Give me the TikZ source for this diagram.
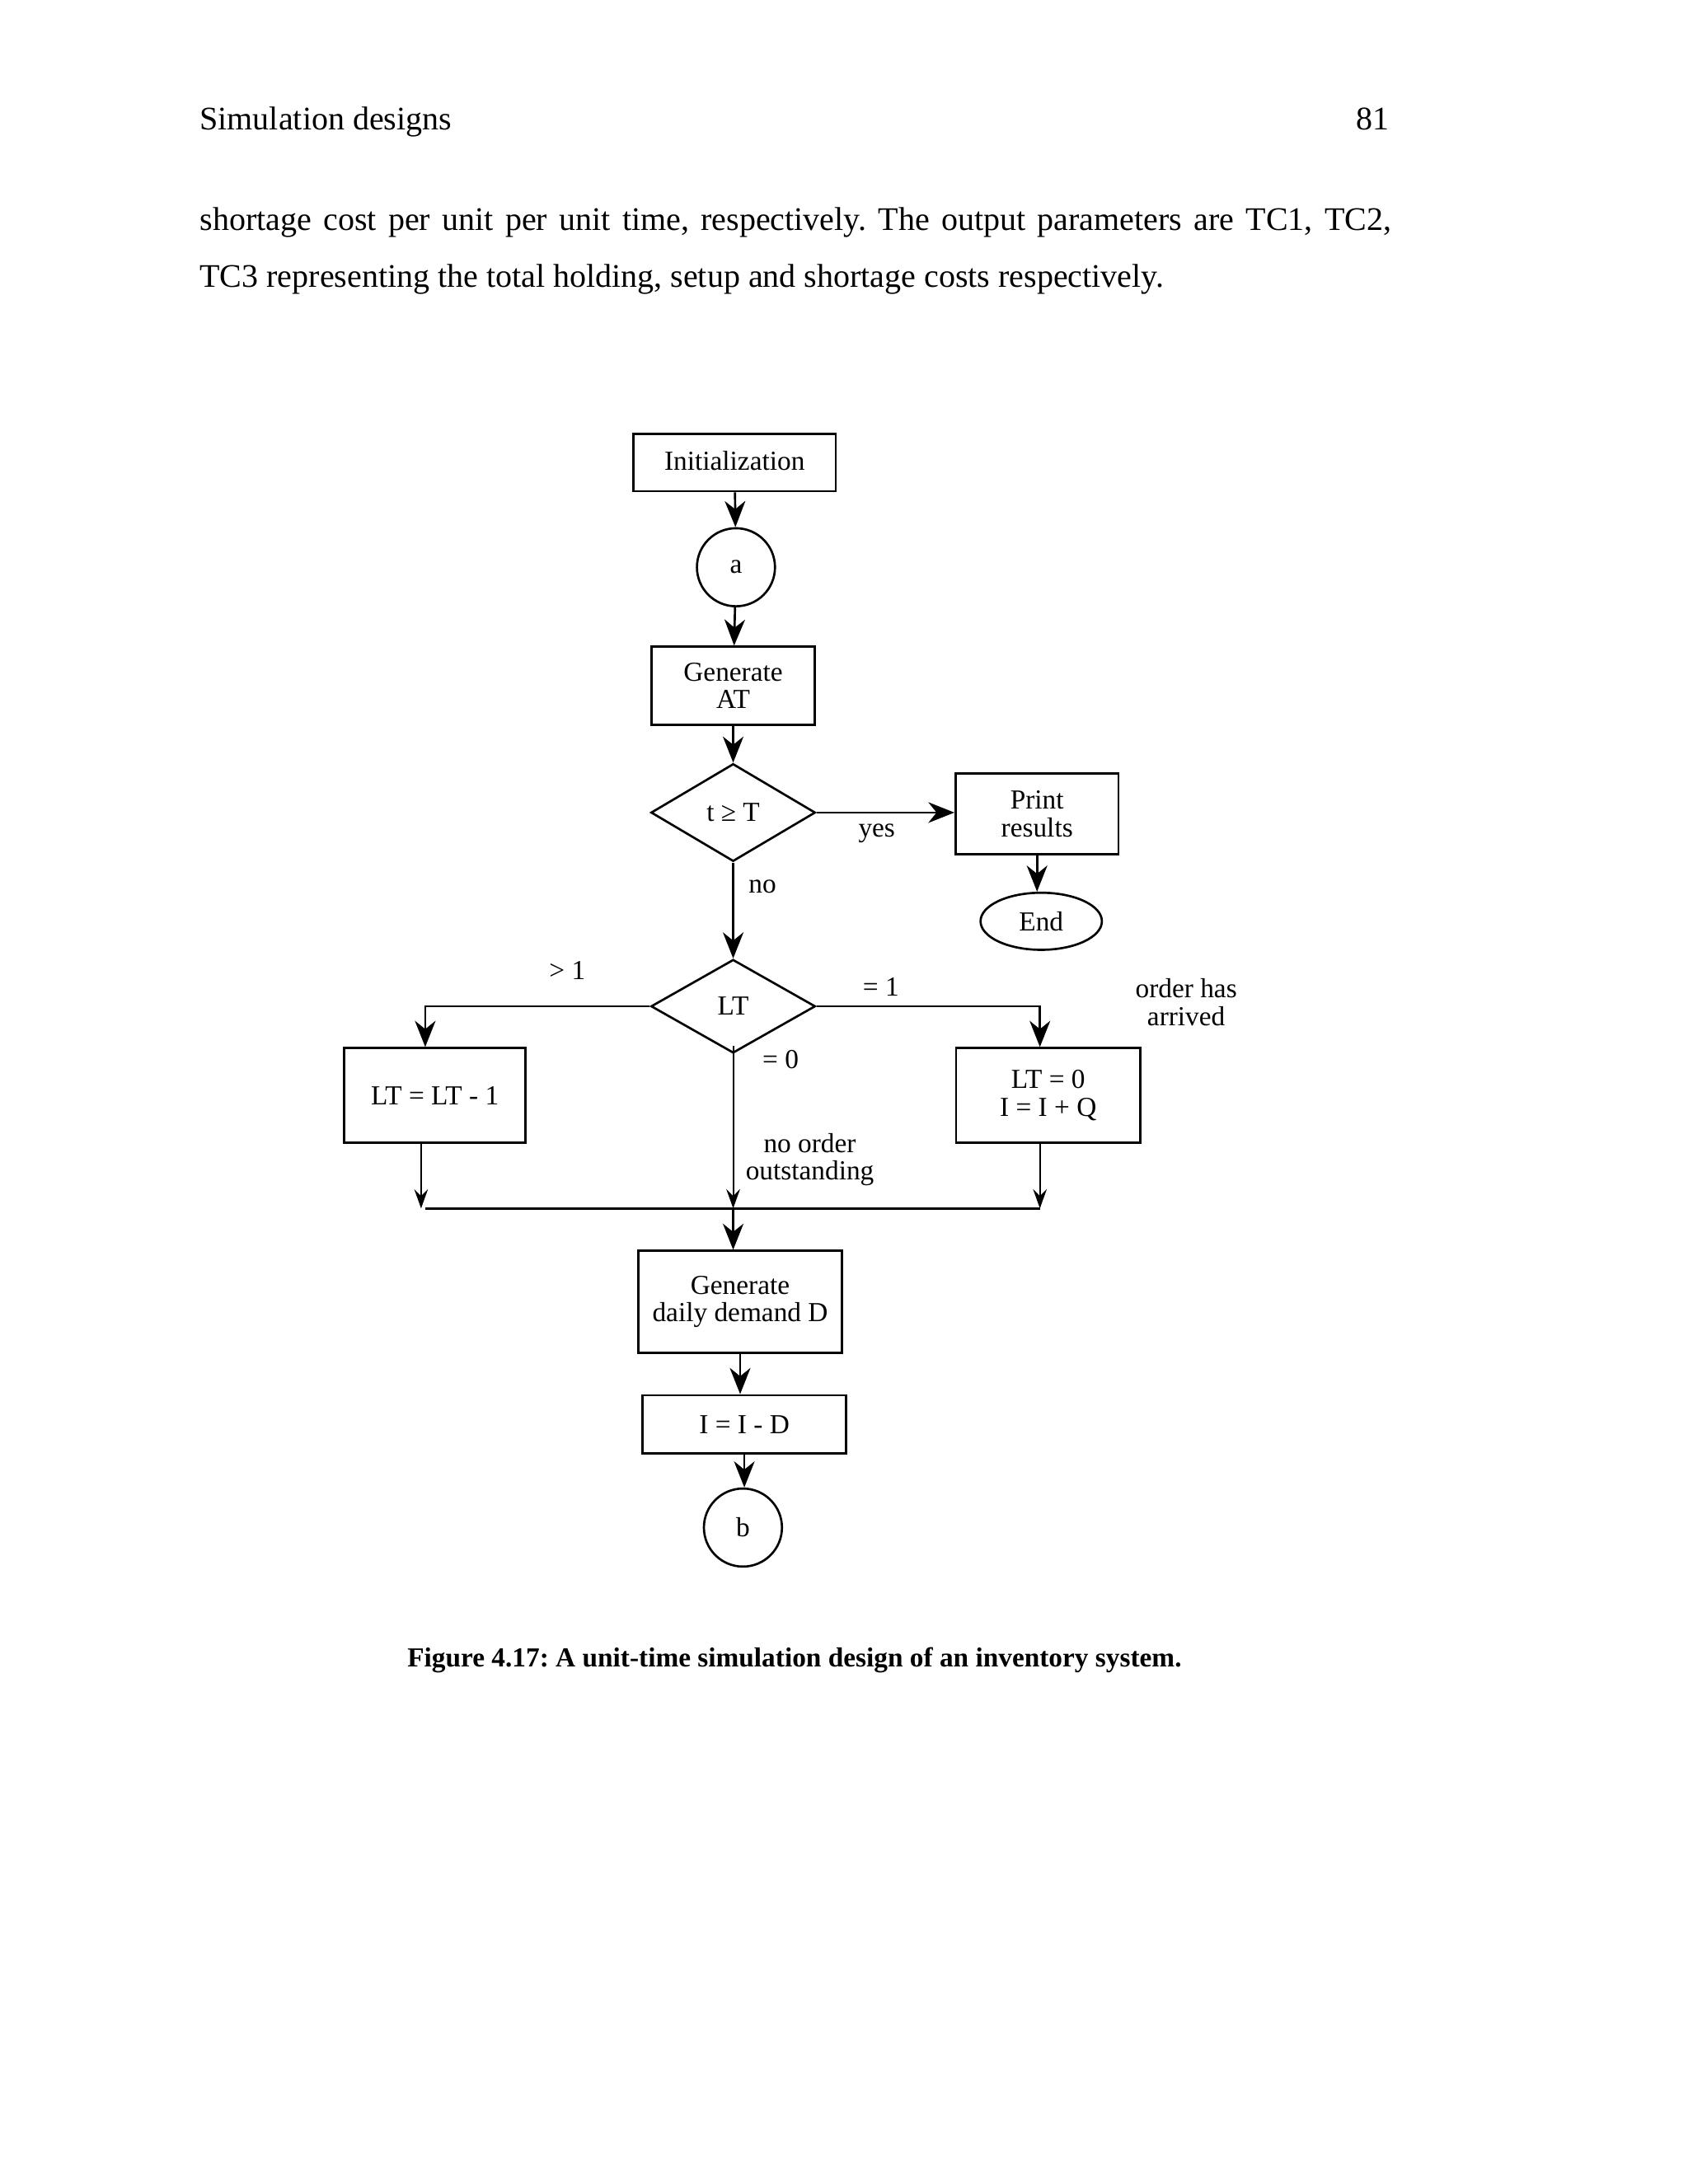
\documentclass[tikz,border=0pt]{standalone}
\usepackage{fontspec}
\setmainfont{Liberation Serif}
\frenchspacing
\usetikzlibrary{shapes,arrows,positioning,calc,arrows.meta}

\begin{document}
\begin{tikzpicture}[x=0.50537bp, y=-0.50537bp,
    every node/.style={font=\fontsize{10}{10}\selectfont, inner sep=1pt},
    box/.style={draw, line width=0.8pt, rectangle, align=center, inner sep=0pt},
    decision/.style={draw, line width=0.8pt, diamond, inner sep=0pt, minimum width=59.6bp},
    connector/.style={draw, line width=0.8pt, circle, inner sep=0pt, minimum size=28.3bp},
    arr/.style={line width=0.8pt, -{Stealth[length=9.5pt,width=7.5pt,inset=3pt]}},
    thinarr/.style={line width=0.6pt, -{Stealth[length=7pt,width=5pt,inset=2.5pt]}},
    lbl/.style={align=center},
    pagetext/.style={font=\fontsize{12}{14}\selectfont, inner sep=0pt}]
            \useasboundingbox (0,0) rectangle (1211,1567);

            % Page header and text
            \node[pagetext, anchor=base west] (head) at (143,93) {Simulation designs};
            \node[pagetext, anchor=base east] (pageno) at (997,93) {81};
            \node[pagetext, anchor=base west] (line1) at (143,165) {\makebox[432bp][s]{shortage cost per unit per unit time, respectively. The output parameters are TC1, TC2,}};
            \node[pagetext, anchor=base west] (line2) at (143,206) {TC3 representing the total holding, setup and shortage costs respectively.};

            % Main column
            \node[box, minimum width=73.3bp, minimum height=20.7bp] (init) at (527,332) {\raisebox{1.5bp}{Initialization}};
            \node[connector] (a) at (528,407) {a};
            \node[box, minimum width=59.1bp, minimum height=28.3bp] (genAT) at (526,492) {Generate\\AT};
            \node[decision, minimum height=35.4bp] (tT) at (526,583) {t ≥ T};

            % Stop branch
            \node[box, minimum width=59.1bp, minimum height=29.3bp] (print) at (744,584) {Print\\results};
            \node[draw, line width=0.8pt, ellipse, inner sep=0pt, minimum width=44bp, minimum height=20.7bp] (end) at (747,661) {End};

            % Lead time test
            \node[decision, minimum height=33.9bp] (LT) at (526,722) {LT};
            \node[box, minimum width=65.7bp, minimum height=34.4bp] (dec) at (312,786) {LT = LT - 1};
            \node[box, minimum width=66.7bp, minimum height=34.4bp] (arrv) at (752,786) {LT = 0\\I = I + Q};

            % Demand part
            \node[box, minimum width=73.8bp, minimum height=36.9bp] (genD) at (531,934) {Generate\\daily demand D};
            \node[box, minimum width=73.8bp, minimum height=21.2bp] (IID) at (534,1022) {I = I - D};
            \node[connector] (b) at (533,1096) {b};

            % Labels
            \node[lbl] (yes) at (629,598) {yes};
            \node[lbl] (no) at (547,636) {no};
            \node[lbl] (gt1) at (407,696) {> 1};
            \node[lbl] (eq1) at (632,708) {= 1};
            \node[lbl] (eq0) at (560,760) {= 0};
            \node[lbl] (noorder) at (581,832) {no order\\outstanding};
            \node[lbl] (arrived) at (851,719) {order has\\arrived};

            % Arrows
            \draw[arr] (init) -- (a);
            \draw[arr] (a) -- (genAT);
            \draw[arr] (genAT) -- (tT);
            \draw[arr] (tT.east) -- (tT.east -| print.west);
            \draw[arr] (print.south) -- (print.south |- end.north);
            \draw[arr] (tT) -- (LT);
            \draw[arr] (LT.west) -| ([xshift=-3.5bp]dec.north);
            \draw[arr] (LT.east) -| ([xshift=-3bp]arrv.north);

            % Merge line
            \coordinate (busL) at (305,867);
            \coordinate (busR) at (746,867);
            \draw[thinarr] ([xshift=-5bp]dec.south) -- ([xshift=-5bp]dec.south |- busL);
            \draw[thinarr] ([xshift=-3bp]arrv.south) -- ([xshift=-3bp]arrv.south |- busR);
            \draw[thinarr] ([yshift=3bp]LT.south) -- (LT.south |- busL);
            \draw[line width=0.8pt] (busL) -- (busR);
            \draw[arr] (LT.south |- busL) -- (LT.south |- genD.north);
            \draw[arr] (genD.south) -- (genD.south |- IID.north);
            \draw[arr] (IID.south) -- (IID.south |- b.north);

            % Caption
            \node[font=\fontsize{10}{12}\selectfont\bfseries, anchor=base] (caption) at (570,1196) {Figure 4.17: A unit-time simulation design of an inventory system.};
        \end{tikzpicture}
\end{document}
